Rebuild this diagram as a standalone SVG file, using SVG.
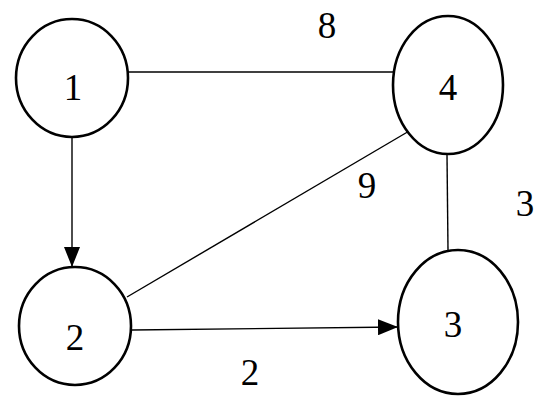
<svg xmlns="http://www.w3.org/2000/svg" width="550" height="403" viewBox="0 0 550 403">
<style>
.node{fill:#fff;stroke:#000;stroke-width:2.6}
.edge{stroke:#000;stroke-width:1.4;fill:none}
text{font-family:"Liberation Serif","Times New Roman",serif;font-size:37px;fill:#000;text-anchor:middle}
</style>
<defs>
<marker id="arr" markerWidth="20" markerHeight="16" refX="20" refY="8" orient="auto" markerUnits="userSpaceOnUse" viewBox="0 0 20 16">
<path d="M0,0 L20,8 L0,16 Z" fill="#000"/>
</marker>
</defs>
<rect width="550" height="403" fill="#fff"/>
<g id="connectors">
<line class="edge" x1="128" y1="72" x2="393" y2="72"/>
<line class="edge" x1="72" y1="137" x2="72" y2="267" marker-end="url(#arr)"/>
<line class="edge" x1="127" y1="297" x2="416" y2="127"/>
<line class="edge" x1="132" y1="330" x2="398" y2="327" marker-end="url(#arr)"/>
<line class="edge" x1="447" y1="155" x2="448" y2="250"/>
<text x="327" y="38">8</text>
<text x="367" y="198">9</text>
<text x="525" y="216">3</text>
<text x="250" y="385">2</text>
</g>
<g id="node1"><ellipse class="node" cx="72" cy="78" rx="56" ry="59"/><text x="73" y="100">1</text></g>
<g id="node4"><ellipse class="node" cx="448" cy="85" rx="55" ry="69"/><text x="448" y="100">4</text></g>
<g id="node2"><ellipse class="node" cx="75" cy="326" rx="56" ry="59"/><text x="75" y="350">2</text></g>
<g id="node3"><ellipse class="node" cx="458" cy="322" rx="60" ry="72"/><text x="453" y="337">3</text></g>
</svg>
